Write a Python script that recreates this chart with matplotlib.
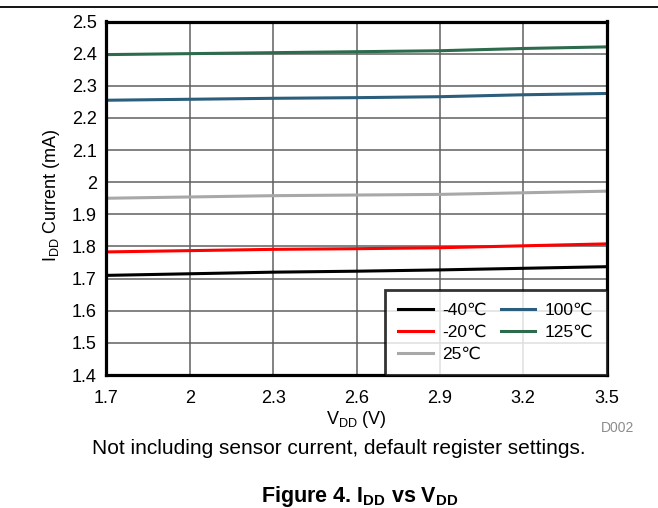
import matplotlib
matplotlib.use("Agg")
import matplotlib.pyplot as plt
from matplotlib.lines import Line2D

plt.rcParams['font.family'] = ['Liberation Sans', 'DejaVu Sans']
plt.rcParams['mathtext.fontset'] = 'custom'
plt.rcParams['mathtext.rm'] = 'Liberation Sans'
plt.rcParams['mathtext.bf'] = 'Liberation Sans:bold'

vdd = [1.7, 2.0, 2.3, 2.6, 2.9, 3.2, 3.5]
i_m40 = [1.710, 1.715, 1.720, 1.723, 1.727, 1.732, 1.737]
i_m20 = [1.783, 1.787, 1.791, 1.793, 1.796, 1.802, 1.808]
i_25 = [1.950, 1.954, 1.958, 1.960, 1.962, 1.967, 1.972]
i_100 = [2.255, 2.258, 2.261, 2.263, 2.266, 2.272, 2.276]
i_125 = [2.397, 2.400, 2.403, 2.406, 2.409, 2.416, 2.421]

labels = ['-40℃', '-20℃', '25℃', '100℃', '125℃']
colors = ['#000000', '#ff0000', '#a8a8a8', '#2a5e7c', '#2d6b4d']
series = [i_m40, i_m20, i_25, i_100, i_125]

xticks = [1.7, 2.0, 2.3, 2.6, 2.9, 3.2, 3.5]
xticklabels = ['1.7', '2', '2.3', '2.6', '2.9', '3.2', '3.5']
yticks = [1.4, 1.5, 1.6, 1.7, 1.8, 1.9, 2.0, 2.1, 2.2, 2.3, 2.4, 2.5]
yticklabels = ['1.4', '1.5', '1.6', '1.7', '1.8', '1.9', '2', '2.1', '2.2', '2.3', '2.4', '2.5']

W, H = 658, 508
fig = plt.figure(figsize=(W / 100, H / 100), dpi=100)
ax = fig.add_axes([106.5 / W, 1 - 375 / H, 500 / W, (375 - 21.5) / H])

for ys, lab, c in zip(series, labels, colors):
    ax.plot(vdd, ys, color=c, lw=2.2, label=lab, zorder=3)

ax.set_xlim(1.7, 3.5)
ax.set_ylim(1.4, 2.5)
ax.set_xticks(xticks)
ax.set_xticklabels(xticklabels)
ax.set_yticks(yticks)
ax.set_yticklabels(yticklabels)
ax.grid(True, color='#606060', lw=1.1, zorder=1)
ax.tick_params(axis='both', length=0, labelsize=13, colors='black')
ax.tick_params(axis='x', pad=10.5)
ax.tick_params(axis='y', pad=7)
for s in ax.spines.values():
    s.set_linewidth(2.3)
    s.set_color('black')
    s.set_zorder(5)

leg = ax.legend(ncol=2, loc='lower right', bbox_to_anchor=(1, 0), borderaxespad=0,
                fontsize=12.5, frameon=True, fancybox=False, handlelength=2.0,
                handletextpad=0.55, columnspacing=0.8, labelspacing=0.4,
                borderpad=0.75)
leg.get_frame().set_edgecolor('black')
leg.get_frame().set_linewidth(2.0)
leg.set_zorder(6)

fig.text(52 / W, 1 - 195 / H, 'I$_{\\mathregular{DD}}$ Current (mA)', rotation=90,
         ha='center', va='center', fontsize=13)
fig.text(356 / W, 1 - 424 / H, 'V$_{\\mathregular{DD}}$ (V)', ha='center', va='baseline',
         fontsize=13)
fig.text(618 / W, 1 - 431.5 / H, 'D002', ha='center', va='baseline', fontsize=10,
         color='#8c8c8c')
fig.text(338.5 / W, 1 - 454 / H, 'Not including sensor current, default register settings.',
         ha='center', va='baseline', fontsize=15)
fig.text(360 / W, 1 - 502 / H, 'Figure 4. I$_{\\mathbf{DD}}$ vs V$_{\\mathbf{DD}}$',
         ha='center', va='baseline', fontsize=15.5, fontweight='bold')

fig.add_artist(Line2D([0, 1], [1 - 7 / H, 1 - 7 / H], color='black', lw=1.3,
                      transform=fig.transFigure))

fig.savefig('out.png', dpi=100)
